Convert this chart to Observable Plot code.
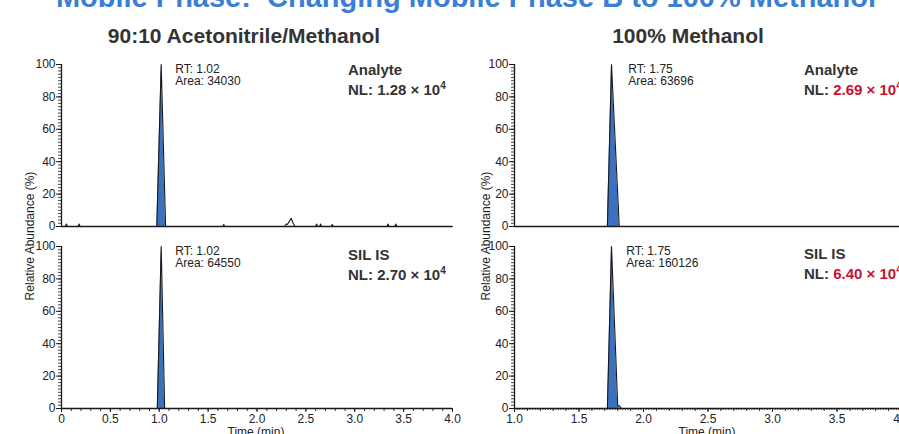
<!DOCTYPE html>
<html>
<head>
<meta charset="utf-8">
<script src="https://cdn.jsdelivr.net/npm/d3@7"></script>
<script src="https://cdn.jsdelivr.net/npm/@observablehq/plot@0.6"></script>
<style>
html, body { margin: 0; padding: 0; background: #fff; overflow: hidden; }
#root { position: relative; width: 899px; height: 434px; overflow: hidden; font-family: "Liberation Sans", Arial, sans-serif; color: #333; }
.abs { position: absolute; white-space: pre; line-height: 1; }
.title { left: 0; width: 932px; text-align: center; top: -17px; font-size: 29px; font-weight: bold; color: #3b7fd4; }
.sub { font-size: 21px; font-weight: bold; color: #333; text-align: center; top: 25px; }
.tag { font-size: 15px; font-weight: bold; color: #333; line-height: 20px; }
.tag sup { font-size: 10px; vertical-align: 6px; line-height: 0; }
.red { color: #c8102e; }
.ylab { font-size: 12px; color: #222; transform: translate(-50%, -50%) rotate(-90deg); }
.xlab { font-size: 12px; color: #222; text-align: center; top: 426px; }
.pnl { position: absolute; }
.pnl svg { max-width: none !important; }
</style>
</head>
<body>
<div id="root">
  <div class="abs title">Mobile Phase:  Changing Mobile Phase B to 100% Methanol</div>
  <div class="abs sub" style="left:0;width:488px;">90:10 Acetonitrile/Methanol</div>
  <div class="abs sub" style="left:588px;width:200px;">100% Methanol</div>
  <div class="abs ylab" style="left:30px;top:236px;">Relative Abundance (%)</div>
  <div class="abs ylab" style="left:486px;top:236px;">Relative Abundance (%)</div>
  <div class="abs xlab" style="left:156px;width:200px;">Time (min)</div>
  <div class="abs xlab" style="left:607px;width:200px;">Time (min)</div>
  <div class="abs tag" style="left:348px;top:60px;">Analyte<br>NL: 1.28 × 10<sup>4</sup></div>
  <div class="abs tag" style="left:348px;top:245px;">SIL IS<br>NL: 2.70 × 10<sup>4</sup></div>
  <div class="abs tag" style="left:804px;top:60px;">Analyte<br>NL: <span class="red">2.69 × 10<sup>4</sup></span></div>
  <div class="abs tag" style="left:804px;top:244px;">SIL IS<br>NL: <span class="red">6.40 × 10<sup>4</sup></span></div>
</div>
<script>
// ---- Data ----
// Left: 90:10 Acetonitrile/Methanol
const acnAnalyteTime = [0.00, 0.04, 0.05, 0.06, 0.17, 0.18, 0.19, 0.975, 1.02, 1.065, 1.65, 1.66, 1.67,
  2.28, 2.30, 2.31, 2.33, 2.35, 2.37, 2.39, 2.60, 2.61, 2.62, 2.64, 2.65, 2.66, 2.76, 2.77, 2.78,
  3.33, 3.34, 3.35, 3.41, 3.42, 3.43, 4.00];
const acnAnalyteAbund = [0, 0, 1.5, 0, 0, 1.5, 0, 0, 100, 0, 0, 1.2, 0,
  0, 1.5, 1.2, 3, 5, 2, 0, 0, 1.5, 0, 0, 1.5, 0, 0, 1.3, 0,
  0, 1.5, 0, 0, 1.5, 0, 0];
const acnIsTime = [0.00, 0.98, 1.02, 1.055, 4.00];
const acnIsAbund = [0, 0, 100, 0, 0];
// Right: 100% Methanol
const meohAnalyteTime = [1.00, 1.72, 1.752, 1.812, 4.00];
const meohAnalyteAbund = [0, 0, 100, 0, 0];
const meohIsTime = [1.00, 1.72, 1.752, 1.80, 1.815, 1.83, 4.00];
const meohIsAbund = [0, 0, 100, 2, 1.5, 0, 0];

// Peak annotations
const rtValues = [1.02, 1.02, 1.75, 1.75];
const rtLabels = ["1.02", "1.02", "1.75", "1.75"];
const areaLabels = ["34030", "64550", "63696", "160126"];
// Integration windows for the shaded peaks
const peakWindows = [[0.975, 1.065], [0.98, 1.055], [1.72, 1.812], [1.72, 1.815]];

// Axis ticks
const yTicks = [0, 20, 40, 60, 80, 100];
const yMinorTicks = d3.range(0, 101, 2);
const xTicksLeft = [0, 0.5, 1.0, 1.5, 2.0, 2.5, 3.0, 3.5, 4.0];
const xMinorLeft = d3.range(0, 4.001, 0.1);
const xTicksRight = [1.0, 1.5, 2.0, 2.5, 3.0, 3.5, 4.0];
const xMidRight = d3.range(1.0, 4.001, 0.1);
const xMinorRight = d3.range(1.0, 4.001, 0.02);
const xDomainLeft = [0, 4];
const xDomainRight = [1, 4];

const FILL = "#3b72c0";
const INK = "#1a1a1a";

function panel(cfg) {
  const data = cfg.t.map((t, i) => ({t, v: cfg.v[i]}));
  const peak = data.filter(d => d.t >= cfg.win[0] && d.t <= cfg.win[1]);
  const marks = [
    Plot.areaY(peak, {x: "t", y: "v", fill: FILL}),
    Plot.line(data, {x: "t", y: "v", stroke: INK, strokeWidth: 1.1}),
    Plot.ruleY([0], {stroke: INK, strokeWidth: 1.6}),
    Plot.ruleX([cfg.xDomain[0]], {stroke: INK, strokeWidth: 1.3}),
    Plot.axisY({ticks: yMinorTicks, tickSize: 3, tickFormat: () => "", label: null, stroke: INK, strokeWidth: 0.8}),
    Plot.axisY({ticks: yTicks, tickSize: 5, tickPadding: 1, label: null, fontSize: 12, stroke: INK}),
    Plot.text([{t: cfg.rt, v: 100, s: `RT: ${cfg.rtLabel}\nArea: ${cfg.area}`}],
      {x: "t", y: "v", text: "s", dx: cfg.dx, textAnchor: "start", lineAnchor: "top", fontSize: 12, lineHeight: 1.0, fill: "#222"})
  ];
  if (cfg.xAxis) {
    if (cfg.xMinor2) marks.push(Plot.axisX({ticks: cfg.xMinor2, tickSize: 2, tickFormat: () => "", label: null, stroke: INK, strokeWidth: 0.8}));
    marks.push(Plot.axisX({ticks: cfg.xMinor, tickSize: 3, tickFormat: () => "", label: null, stroke: INK, strokeWidth: 0.9}));
    marks.push(Plot.axisX({ticks: cfg.xTicks, tickSize: 4, tickPadding: 2, tickFormat: cfg.fmt, label: null, fontSize: 12, stroke: INK}));
  }
  return Plot.plot({
    width: cfg.width, height: cfg.height,
    marginLeft: cfg.ml, marginRight: cfg.mr, marginTop: cfg.mt, marginBottom: cfg.mb,
    x: {domain: cfg.xDomain, axis: cfg.xAxis ? undefined : null},
    y: {domain: [0, 100]},
    style: {fontFamily: "Liberation Sans, Arial, sans-serif", fontSize: "12px", color: "#222", background: "transparent", overflow: "visible", maxWidth: "none"},
    marks
  });
}

const fmtLeft = d => d === 0 ? "0" : d.toFixed(1);
const fmtRight = d => d.toFixed(1);

const panels = [
  {left: 0, top: 54, t: acnAnalyteTime, v: acnAnalyteAbund, i: 0, xDomain: xDomainLeft, width: 460, height: 180, ml: 61, mr: 8, mt: 10, mb: 8, xAxis: false, dx: 14},
  {left: 0, top: 236, t: acnIsTime, v: acnIsAbund, i: 1, xDomain: xDomainLeft, width: 460, height: 198, ml: 61, mr: 8, mt: 10, mb: 26, xAxis: true, xTicks: xTicksLeft, xMinor: xMinorLeft, fmt: fmtLeft, dx: 14},
  {left: 460, top: 54, t: meohAnalyteTime, v: meohAnalyteAbund, i: 2, xDomain: xDomainRight, width: 460, height: 180, ml: 54, mr: 19, mt: 10, mb: 8, xAxis: false, dx: 17},
  {left: 460, top: 236, t: meohIsTime, v: meohIsAbund, i: 3, xDomain: xDomainRight, width: 460, height: 198, ml: 54, mr: 19, mt: 10, mb: 26, xAxis: true, xTicks: xTicksRight, xMinor: xMidRight, xMinor2: xMinorRight, fmt: fmtRight, dx: 15}
];

const root = document.getElementById("root");
for (const p of panels) {
  const cfg = Object.assign({}, p, {rt: rtValues[p.i], rtLabel: rtLabels[p.i], area: areaLabels[p.i], win: peakWindows[p.i]});
  const wrap = document.createElement("div");
  wrap.className = "pnl";
  wrap.style.left = p.left + "px";
  wrap.style.top = p.top + "px";
  wrap.style.width = p.width + "px";
  wrap.style.height = p.height + "px";
  wrap.appendChild(panel(cfg));
  root.insertBefore(wrap, root.firstChild);
}
</script>
</body>
</html>
